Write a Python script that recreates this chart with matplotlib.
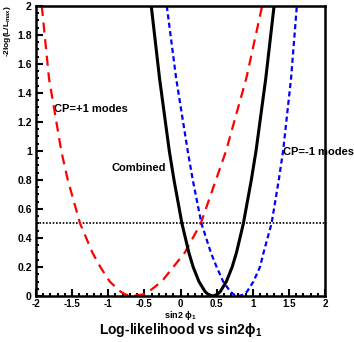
import matplotlib
matplotlib.use("Agg")
import matplotlib.pyplot as plt
from matplotlib.ticker import MultipleLocator

# curves: x positions at each level (left branch, right branch)
niveles = [2.0, 1.5, 1.0, 0.8, 0.5, 0.3, 0.2, 0.1, 0.03, 0.01, 0.0]

cp_mas_izq = [-1.92, -1.82, -1.65, -1.56, -1.39, -1.22, -1.11, -0.98, -0.83, -0.76, -0.66]
cp_mas_der = [1.13, 0.91, 0.63, 0.49, 0.28, 0.06, -0.10, -0.26, -0.44, -0.53, -0.66]

comb_izq = [-0.405, -0.29, -0.155, -0.09, 0.02, 0.115, 0.175, 0.255, 0.34, 0.385, 0.445]
comb_der = [1.295, 1.18, 1.045, 0.98, 0.87, 0.775, 0.715, 0.635, 0.55, 0.505, 0.445]

cp_menos_izq = [-0.19, -0.06, 0.10, 0.17, 0.29, 0.42, 0.50, 0.59, 0.69, 0.74, 0.81]
cp_menos_der = [1.61, 1.53, 1.42, 1.36, 1.26, 1.15, 1.10, 1.01, 0.92, 0.87, 0.81]

nivel_corte = 0.5

xticks = [-2, -1.5, -1, -0.5, 0, 0.5, 1, 1.5, 2]
xlabels = ["-2", "-1.5", "-1", "-0.5", "0", "0.5", "1", "1.5", "2"]
yticks = [0, 0.2, 0.4, 0.6, 0.8, 1, 1.2, 1.4, 1.6, 1.8, 2]
ylabels = ["0", "0.2", "0.4", "0.6", "0.8", "1", "1.2", "1.4", "1.6", "1.8", "2"]


def curva(izq, der):
    xs = izq + der[::-1][1:]
    ys = niveles + niveles[::-1][1:]
    return xs, ys


plt.rcParams['font.family'] = ['Liberation Sans', 'DejaVu Sans']
plt.rcParams['font.weight'] = 'bold'
plt.rcParams['mathtext.default'] = 'regular'

fig = plt.figure(figsize=(3.54, 3.42), dpi=100)
ax = fig.add_axes([0.1017, 0.1345, 0.8164, 0.848])

x, y = curva(cp_mas_izq, cp_mas_der)
ax.plot(x, y, color="#ff0000", lw=1.6, dashes=(4.5, 3), zorder=3)
x, y = curva(cp_menos_izq, cp_menos_der)
ax.plot(x, y, color="#0000ff", lw=1.6, dashes=(2.3, 1.5), zorder=3)
x, y = curva(comb_izq, comb_der)
ax.plot(x, y, color="black", lw=2.2, zorder=4)
ax.axhline(nivel_corte, color="black", lw=1.2, ls=(0, (1, 1)), zorder=2)

ax.set_xlim(-2, 2)
ax.set_ylim(0, 2)
ax.set_xticks(xticks)
ax.set_xticklabels(xlabels)
ax.set_yticks(yticks)
ax.set_yticklabels(ylabels)
ax.xaxis.set_minor_locator(MultipleLocator(0.1))
ax.yaxis.set_minor_locator(MultipleLocator(0.05))
ax.tick_params(which="both", direction="in", top=False, right=False, width=1.5)
ax.tick_params(which="major", length=5)
ax.tick_params(which="minor", length=2.5)
ax.tick_params(axis="x", labelsize=7, pad=2.5)
ax.tick_params(axis="y", labelsize=7.5, pad=3)
for s in ax.spines.values():
    s.set_linewidth(1.8)
    s.set_zorder(5)

ax.text(-1.75, 1.29, "CP=+1 modes", fontsize=8, fontweight="bold", va="center", zorder=1)
ax.text(-0.96, 0.88, "Combined", fontsize=8, fontweight="bold", va="center", zorder=1)
ax.text(1.42, 0.99, "CP=-1 modes", fontsize=8, fontweight="bold", va="center", clip_on=False, zorder=1)

fig.text(0.022, 0.985, r"-2log(L/L$_{max}$)", rotation=90, fontsize=6, fontweight="bold",
         ha="center", va="top")
fig.text(0.51, 0.077, r"sin2 $\phi_1$", fontsize=6.5, fontweight="bold", ha="center", va="center")
fig.text(0.51, 0.036, r"Log-likelihood vs sin2$\phi_1$", fontsize=10, fontweight="bold",
         ha="center", va="center")

fig.savefig("out.png", dpi=100)
